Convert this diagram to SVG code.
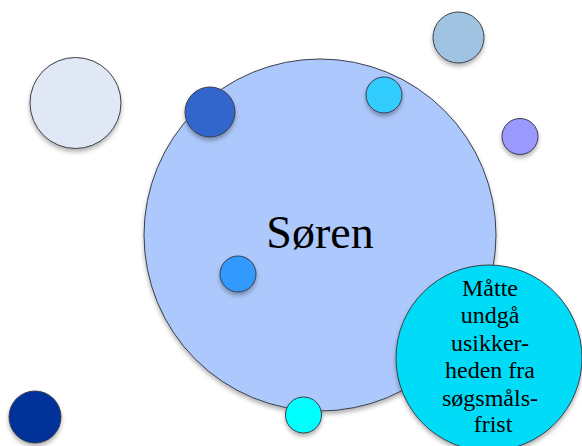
<svg xmlns="http://www.w3.org/2000/svg" width="582" height="446" viewBox="0 0 582 446">
<defs>
<filter id="sh" x="-20%" y="-20%" width="140%" height="150%">
<feDropShadow dx="0" dy="3" stdDeviation="2" flood-color="#000" flood-opacity="0.3"/>
</filter>
<style>
.c{stroke:#3a3f4a;stroke-width:1;filter:url(#sh)}
</style>
</defs>
<rect width="582" height="446" fill="#ffffff"/>
<g id="soren">
<circle class="c" cx="320" cy="235" r="176" fill="#adc8fc"/>
<text x="320" y="248" font-size="46" font-family="Liberation Serif, DejaVu Serif, serif" text-anchor="middle" fill="#000">Søren</text>
</g>
<g id="c-lightgrey"><circle class="c" cx="75.5" cy="103" r="45.5" fill="#dfe8f4"/></g>
<g id="c-darkblue"><circle class="c" cx="210" cy="112" r="25" fill="#3366cc" stroke="#1a2f6a"/></g>
<g id="c-steel"><circle class="c" cx="458.5" cy="37.5" r="25.5" fill="#9fc3e0"/></g>
<g id="c-cyan-top"><circle class="c" cx="384" cy="95" r="18" fill="#33ccff"/></g>
<g id="c-purple"><circle class="c" cx="520" cy="136.5" r="18" fill="#9999ff"/></g>
<g id="c-blue-inner"><circle class="c" cx="238" cy="274" r="18" fill="#3399ff"/></g>
<g id="c-navy"><circle class="c" cx="35" cy="417" r="26" fill="#003399" stroke="#001a5c"/></g>
<g id="c-cyan-bottom"><circle class="c" cx="303.5" cy="415" r="18" fill="#00ffff"/></g>
<g id="bubble">
<circle class="c" cx="489" cy="358" r="93" fill="#00dcf8"/>
<text font-size="24" font-family="Liberation Serif, DejaVu Serif, serif" text-anchor="middle" fill="#000">
<tspan x="493" y="296">Måtte</tspan>
<tspan x="493" y="323">undgå</tspan>
<tspan x="493" y="351">usikker-</tspan>
<tspan x="493" y="378">heden fra</tspan>
<tspan x="493" y="406">søgsmåls-</tspan>
<tspan x="493" y="432">frist</tspan>
</text>
</g>
<g id="connectors"></g>
</svg>
